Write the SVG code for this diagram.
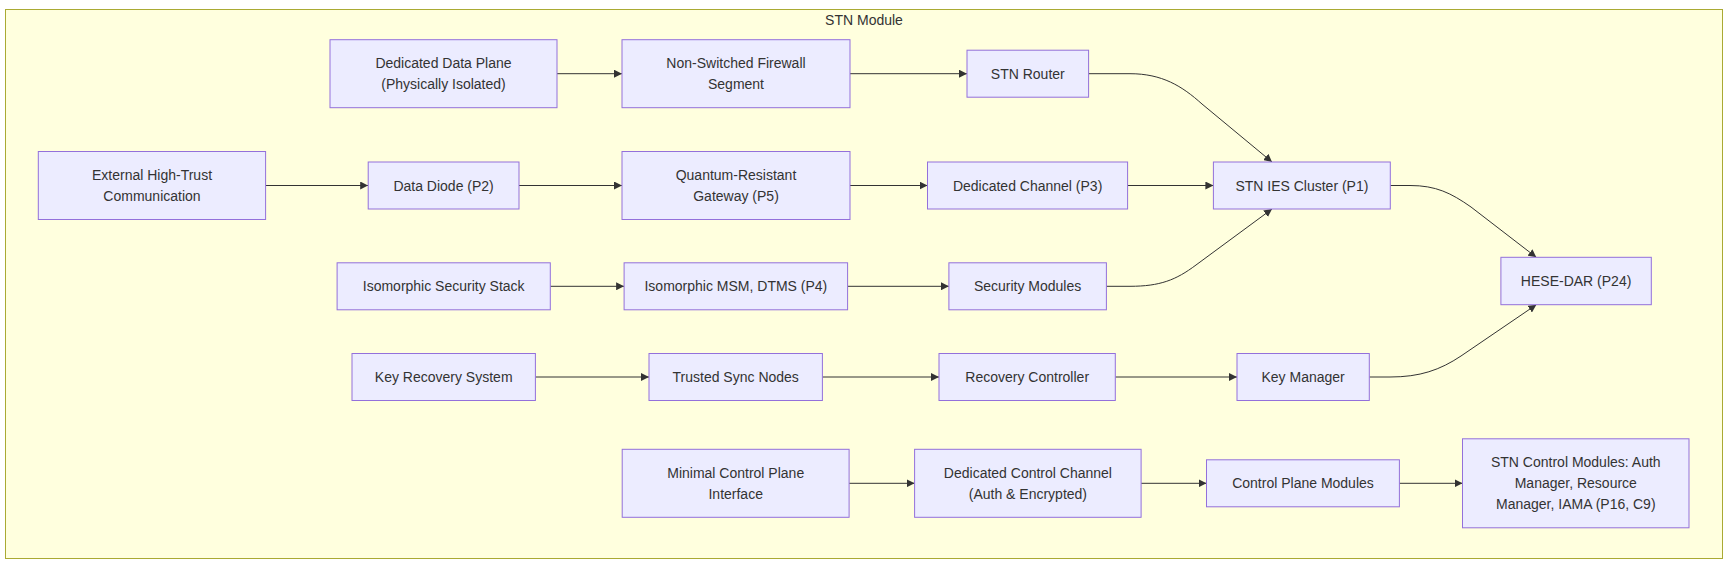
<svg xmlns="http://www.w3.org/2000/svg" width="1728" height="563" viewBox="0 0 1728 563">
<style>
.cluster{fill:#ffffde;stroke:#aaaa33;stroke-width:1}
.node rect{fill:#ECECFF;stroke:#9370DB;stroke-width:1}
text{font-family:"Liberation Sans",Arial,sans-serif;font-size:14px;fill:#333333;text-anchor:middle;dominant-baseline:central}
.edge{fill:none;stroke:#333333;stroke-width:1;marker-end:url(#arrow)}
</style>
<defs>
<marker id="arrow" viewBox="0 0 10 10" refX="10" refY="5" markerUnits="userSpaceOnUse" markerWidth="8" markerHeight="8" orient="auto">
<path d="M0,0 L10,5 L0,10 z" fill="#333333"/>
</marker>
</defs>
<rect fill="#ffffff" x="0" y="0" width="1728" height="563"/>
<g id="cluster-stn">
<rect class="cluster" x="5.5" y="9.5" width="1717" height="549"/>
<text x="864" y="19.5">STN Module</text>
</g>
<g id="connectors">
<path class="edge" d="M557,73.7 L622,73.7"/>
<path class="edge" d="M850,73.7 L967,73.7"/>
<path class="edge" d="M265.6,185.5 L368.2,185.5"/>
<path class="edge" d="M519,185.5 L622,185.5"/>
<path class="edge" d="M850,185.5 L927.5,185.5"/>
<path class="edge" d="M1127.6,185.5 L1213.4,185.5"/>
<path class="edge" d="M550.3,286.3 L624.1,286.3"/>
<path class="edge" d="M847.6,286.3 L948.9,286.3"/>
<path class="edge" d="M535.4,377 L649,377"/>
<path class="edge" d="M822.4,377 L939,377"/>
<path class="edge" d="M1115.3,377 L1237,377"/>
<path class="edge" d="M849.1,483.3 L914.6,483.3"/>
<path class="edge" d="M1141.1,483.3 L1206.5,483.3"/>
<path class="edge" d="M1399.4,483.3 L1462.5,483.3"/>
<path class="edge" d="M1088.6,73.7 L1130,73.7 C1162,73.7 1182,86 1202,104 L1272,162"/>
<path class="edge" d="M1106.4,286.3 L1130,286.3 C1160,286.3 1176,280 1196,265 L1272,209"/>
<path class="edge" d="M1390.3,185.5 L1410,185.5 C1436,185.5 1451,193 1471,207 L1536.3,257.3"/>
<path class="edge" d="M1369.3,377 L1390,377 C1420,377 1440,370 1461,356 L1536.3,304.7"/>
</g>
<g id="n-ddp" class="node"><rect x="330" y="39.7" width="227" height="68"/><text x="443.5" y="63.2">Dedicated Data Plane</text><text x="443.5" y="84.2">(Physically Isolated)</text></g>
<g id="n-fw" class="node"><rect x="622" y="39.7" width="228" height="68"/><text x="736" y="63.2">Non-Switched Firewall</text><text x="736" y="84.2">Segment</text></g>
<g id="n-router" class="node"><rect x="967" y="50.2" width="121.6" height="47"/><text x="1027.8" y="73.7">STN Router</text></g>
<g id="n-ext" class="node"><rect x="38.3" y="151.5" width="227.3" height="68"/><text x="152" y="175">External High-Trust</text><text x="152" y="196">Communication</text></g>
<g id="n-diode" class="node"><rect x="368.2" y="162" width="150.8" height="47"/><text x="443.6" y="185.5">Data Diode (P2)</text></g>
<g id="n-qr" class="node"><rect x="622" y="151.5" width="228" height="68"/><text x="736" y="175">Quantum-Resistant</text><text x="736" y="196">Gateway (P5)</text></g>
<g id="n-dc" class="node"><rect x="927.5" y="162" width="200.1" height="47"/><text x="1027.6" y="185.5">Dedicated Channel (P3)</text></g>
<g id="n-ies" class="node"><rect x="1213.4" y="162" width="176.9" height="47"/><text x="1301.9" y="185.5">STN IES Cluster (P1)</text></g>
<g id="n-hese" class="node"><rect x="1500.9" y="257.3" width="150.4" height="47.4"/><text x="1576.1" y="281">HESE-DAR (P24)</text></g>
<g id="n-iss" class="node"><rect x="337.1" y="262.8" width="213.2" height="47"/><text x="443.7" y="286.3">Isomorphic Security Stack</text></g>
<g id="n-msm" class="node"><rect x="624.1" y="262.8" width="223.5" height="47"/><text x="735.9" y="286.3">Isomorphic MSM, DTMS (P4)</text></g>
<g id="n-sec" class="node"><rect x="948.9" y="262.8" width="157.5" height="47"/><text x="1027.6" y="286.3">Security Modules</text></g>
<g id="n-krs" class="node"><rect x="352" y="353.5" width="183.4" height="47"/><text x="443.7" y="377">Key Recovery System</text></g>
<g id="n-tsn" class="node"><rect x="649" y="353.5" width="173.4" height="47"/><text x="735.7" y="377">Trusted Sync Nodes</text></g>
<g id="n-rc" class="node"><rect x="939" y="353.5" width="176.3" height="47"/><text x="1027.2" y="377">Recovery Controller</text></g>
<g id="n-km" class="node"><rect x="1237" y="353.5" width="132.3" height="47"/><text x="1303.1" y="377">Key Manager</text></g>
<g id="n-mcp" class="node"><rect x="622.2" y="449.3" width="226.9" height="68"/><text x="735.7" y="472.8">Minimal Control Plane</text><text x="735.7" y="493.8">Interface</text></g>
<g id="n-dcc" class="node"><rect x="914.6" y="449.3" width="226.5" height="68"/><text x="1027.9" y="472.8">Dedicated Control Channel</text><text x="1027.9" y="493.8">(Auth &amp; Encrypted)</text></g>
<g id="n-cpm" class="node"><rect x="1206.5" y="459.8" width="192.9" height="47"/><text x="1303" y="483.3">Control Plane Modules</text></g>
<g id="n-stnc" class="node"><rect x="1462.5" y="438.8" width="226.5" height="89"/><text x="1575.8" y="462.3">STN Control Modules: Auth</text><text x="1575.8" y="483.3">Manager, Resource</text><text x="1575.8" y="504.3">Manager, IAMA (P16, C9)</text></g>
</svg>
